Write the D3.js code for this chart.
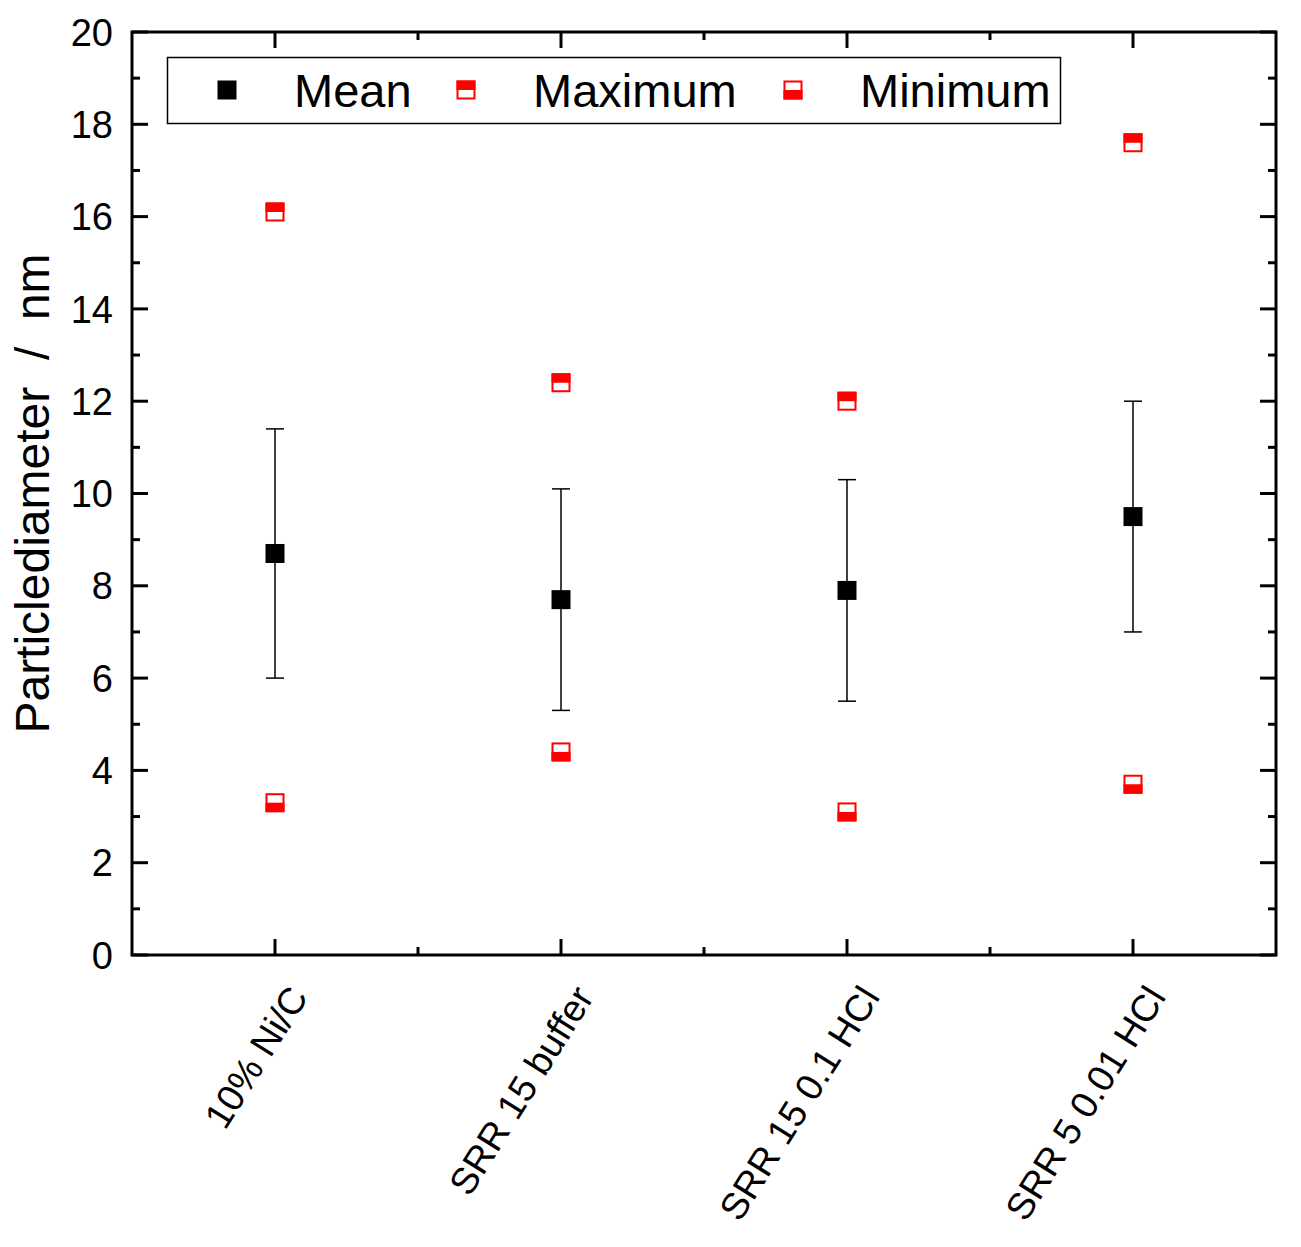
<!DOCTYPE html>
<html>
<head>
<meta charset="utf-8">
<script src="https://cdn.jsdelivr.net/npm/d3@7"></script>
<style>
  body { margin: 0; background: #fff; }
  text { font-family: "Liberation Sans", Arial, sans-serif; fill: #000; }
</style>
</head>
<body>
<div id="chart"></div>
<script>
// data
var categories = ["10% Ni/C", "SRR 15 buffer", "SRR 15 0.1 HCl", "SRR 5 0.01 HCl"];
var meanVals = [8.7, 7.7, 7.9, 9.5];
var sdVals = [2.7, 2.4, 2.4, 2.5];
var maxVals = [16.1, 12.4, 12.0, 17.6];
var minVals = [3.3, 4.4, 3.1, 3.7];
var yTicks = [0, 2, 4, 6, 8, 10, 12, 14, 16, 18, 20];

var width = 1301, height = 1247;
var pLeft = 132, pRight = 1276, pTop = 32, pBottom = 955;

var svg = d3.select("#chart").append("svg")
  .attr("width", width)
  .attr("height", height);

var x = d3.scalePoint()
  .domain(categories)
  .range([pLeft, pRight])
  .padding(0.5);

var y = d3.scaleLinear()
  .domain([0, 20])
  .range([pBottom, pTop]);

var red = "#ff0000";
var ms = 19; // marker size

// minor tick positions (between categories)
var step = x.step();
var minorX = categories.slice(1).map(function(d) { return x(d) - step / 2; });
var minorY = d3.range(1, 20, 2);

// ticks, inward on all four sides
var tk = svg.append("g").attr("stroke", "#000").attr("stroke-width", 3);
yTicks.forEach(function(v) {
  tk.append("line").attr("x1", pLeft).attr("x2", pLeft + 16).attr("y1", y(v)).attr("y2", y(v));
  tk.append("line").attr("x1", pRight).attr("x2", pRight - 16).attr("y1", y(v)).attr("y2", y(v));
});
minorY.forEach(function(v) {
  tk.append("line").attr("x1", pLeft).attr("x2", pLeft + 8).attr("y1", y(v)).attr("y2", y(v));
  tk.append("line").attr("x1", pRight).attr("x2", pRight - 8).attr("y1", y(v)).attr("y2", y(v));
});
categories.forEach(function(c) {
  tk.append("line").attr("x1", x(c)).attr("x2", x(c)).attr("y1", pBottom).attr("y2", pBottom - 16);
  tk.append("line").attr("x1", x(c)).attr("x2", x(c)).attr("y1", pTop).attr("y2", pTop + 16);
});
minorX.forEach(function(v) {
  tk.append("line").attr("x1", v).attr("x2", v).attr("y1", pBottom).attr("y2", pBottom - 8);
  tk.append("line").attr("x1", v).attr("x2", v).attr("y1", pTop).attr("y2", pTop + 8);
});

// frame
svg.append("rect")
  .attr("x", pLeft).attr("y", pTop)
  .attr("width", pRight - pLeft).attr("height", pBottom - pTop)
  .attr("fill", "none").attr("stroke", "#000").attr("stroke-width", 3);

// y tick labels
svg.selectAll(".ylab")
  .data(yTicks)
  .enter()
  .append("text")
  .attr("class", "ylab")
  .attr("x", pLeft - 19)
  .attr("y", function(d) { return y(d); })
  .attr("dy", "0.36em")
  .attr("text-anchor", "end")
  .style("font-size", "38px")
  .text(function(d) { return d; });

// x tick labels, rotated
svg.selectAll(".xlab")
  .data(categories)
  .enter()
  .append("text")
  .attr("class", "xlab")
  .attr("transform", function(d) { return "translate(" + (x(d) + 34) + "," + (pBottom + 42) + ") rotate(-58)"; })
  .attr("text-anchor", "end")
  .style("font-size", "37.5px")
  .text(function(d) { return d; });

// y axis title
svg.append("text")
  .attr("transform", "translate(49," + ((pTop + pBottom) / 2) + ") rotate(-90)")
  .attr("text-anchor", "middle")
  .style("font-size", "48px")
  .style("white-space", "pre")
  .text("Particlediameter  /  nm");

// error bars
var eb = svg.append("g").attr("stroke", "#000").attr("stroke-width", 1.5);
categories.forEach(function(c, i) {
  var hi = meanVals[i] + sdVals[i], lo = meanVals[i] - sdVals[i];
  eb.append("line").attr("x1", x(c)).attr("x2", x(c)).attr("y1", y(hi)).attr("y2", y(lo));
  eb.append("line").attr("x1", x(c) - 9).attr("x2", x(c) + 9).attr("y1", y(hi)).attr("y2", y(hi));
  eb.append("line").attr("x1", x(c) - 9).attr("x2", x(c) + 9).attr("y1", y(lo)).attr("y2", y(lo));
});

// half filled square: which = "top" or "bottom"
function halfSquare(g, cx, cy, which) {
  g.append("rect")
    .attr("x", cx - ms / 2 + 1).attr("y", cy - ms / 2 + 1)
    .attr("width", ms - 2).attr("height", ms - 2)
    .attr("fill", "#fff").attr("stroke", red).attr("stroke-width", 2);
  g.append("rect")
    .attr("x", cx - ms / 2).attr("y", which == "top" ? cy - ms / 2 : cy)
    .attr("width", ms).attr("height", ms / 2)
    .attr("fill", red);
}

// mean markers
svg.selectAll(".mean")
  .data(meanVals)
  .enter()
  .append("rect")
  .attr("class", "mean")
  .attr("x", function(d, i) { return x(categories[i]) - ms / 2; })
  .attr("y", function(d) { return y(d) - ms / 2; })
  .attr("width", ms).attr("height", ms)
  .attr("fill", "#000");

var mk = svg.append("g");
maxVals.forEach(function(v, i) { halfSquare(mk, x(categories[i]), y(v), "top"); });
minVals.forEach(function(v, i) { halfSquare(mk, x(categories[i]), y(v), "bottom"); });

// legend
var lg = svg.append("g");
lg.append("rect")
  .attr("x", 167.5).attr("y", 57.5).attr("width", 893).attr("height", 66)
  .attr("fill", "#fff").attr("stroke", "#000").attr("stroke-width", 1.5);
var legY = 90;
lg.append("rect").attr("x", 227 - ms / 2).attr("y", legY - ms / 2).attr("width", ms).attr("height", ms).attr("fill", "#000");
halfSquare(lg, 466, legY, "top");
halfSquare(lg, 793, legY, "bottom");
var legText = [["Mean", 294], ["Maximum", 533], ["Minimum", 860]];
legText.forEach(function(t) {
  lg.append("text")
    .attr("x", t[1]).attr("y", legY)
    .attr("dy", "0.36em")
    .style("font-size", "47px")
    .text(t[0]);
});
</script>
</body>
</html>
